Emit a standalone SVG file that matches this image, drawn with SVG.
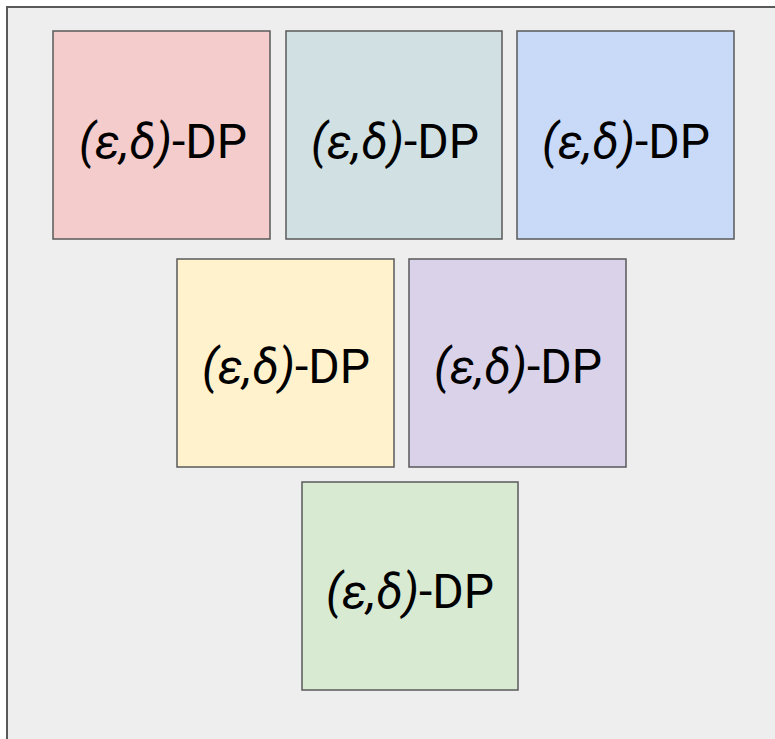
<svg xmlns="http://www.w3.org/2000/svg" width="775" height="739" viewBox="0 0 775 739">
<style>
.bg{fill:#eeeeee;stroke:#595959;stroke-width:2}
.box{stroke:#595959;stroke-width:1.5}
.lbl{font-family:Roboto,"Liberation Sans",sans-serif;font-size:48px;fill:#000;text-anchor:middle}
.it{font-style:italic}
</style>
<rect width="775" height="739" fill="#ffffff"/>
<rect class="bg" x="7" y="7" width="790" height="760"/>
<g id="node1"><rect class="box" x="53" y="31" width="217" height="208" fill="#f4cccc"/><text class="lbl" x="163" y="158"><tspan class="it">(ε,δ)</tspan>-DP</text></g>
<g id="node2"><rect class="box" x="286" y="31" width="216" height="208" fill="#d0e0e3"/><text class="lbl" x="395" y="158"><tspan class="it">(ε,δ)</tspan>-DP</text></g>
<g id="node3"><rect class="box" x="517" y="31" width="217" height="208" fill="#c9daf8"/><text class="lbl" x="626" y="158"><tspan class="it">(ε,δ)</tspan>-DP</text></g>
<g id="node4"><rect class="box" x="177" y="259" width="217" height="208" fill="#fff2cc"/><text class="lbl" x="286" y="383"><tspan class="it">(ε,δ)</tspan>-DP</text></g>
<g id="node5"><rect class="box" x="409" y="259" width="217" height="208" fill="#d9d2e9"/><text class="lbl" x="518" y="383"><tspan class="it">(ε,δ)</tspan>-DP</text></g>
<g id="node6"><rect class="box" x="302" y="482" width="216" height="208" fill="#d9ead3"/><text class="lbl" x="410" y="608"><tspan class="it">(ε,δ)</tspan>-DP</text></g>
<g id="connectors"></g>
</svg>
